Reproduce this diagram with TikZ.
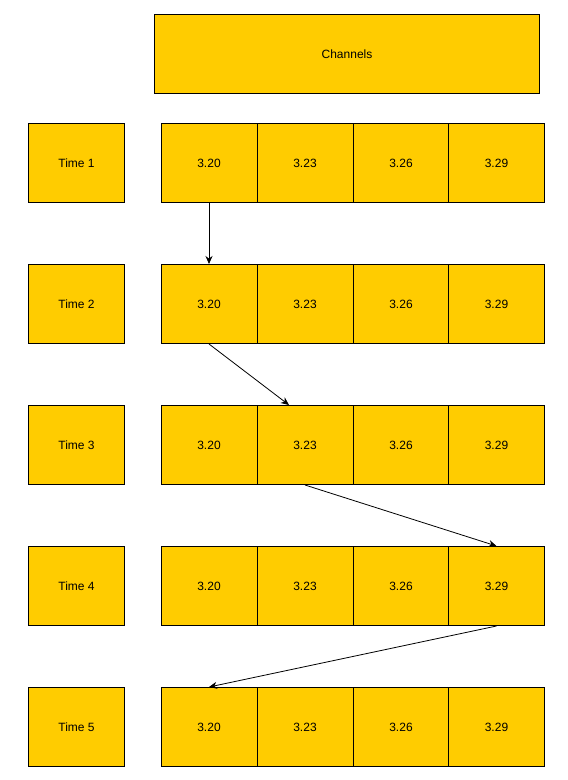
\documentclass[tikz,border=0pt]{standalone}
\usepackage{fontspec}
\setmainfont{Liberation Sans}
\usetikzlibrary{arrows.meta}
\definecolor{cellfill}{HTML}{FFCC00}
\begin{document}
\begin{tikzpicture}[x=1pt,y=-1pt,
  cellbox/.style={draw=black,line width=1pt,fill=cellfill,minimum width=96pt,minimum height=79pt,inner sep=0pt,anchor=north west,font=\fontsize{12}{14}\selectfont},
  timebox/.style={cellbox},
  conn/.style={draw=black,line width=0.8pt,-{Stealth[length=8pt,width=7pt]}}]
\useasboundingbox (0,0) rectangle (568,780);
\node[cellbox,minimum width=385pt] (ch) at (154,14) {Channels};
\foreach \r/\y in {1/123,2/264,3/405,4/546,5/687}{
  \node[timebox] (t\r) at (28,\y) {Time \r};
  \node[cellbox] (c\r a) at (160.5,\y) {3.20};
  \node[cellbox] (c\r b) at (256.5,\y) {3.23};
  \node[cellbox] (c\r c) at (352.5,\y) {3.26};
  \node[cellbox] (c\r d) at (448,\y) {3.29};
}
\draw[conn] (c1a.south) -- (c2a.north);
\draw[conn] (c2a.south) -- ([xshift=-16pt]c3b.north);
\draw[conn] (c3b.south) -- (c4d.north);
\draw[conn] (c4d.south) -- (c5a.north);
\end{tikzpicture}
\end{document}
